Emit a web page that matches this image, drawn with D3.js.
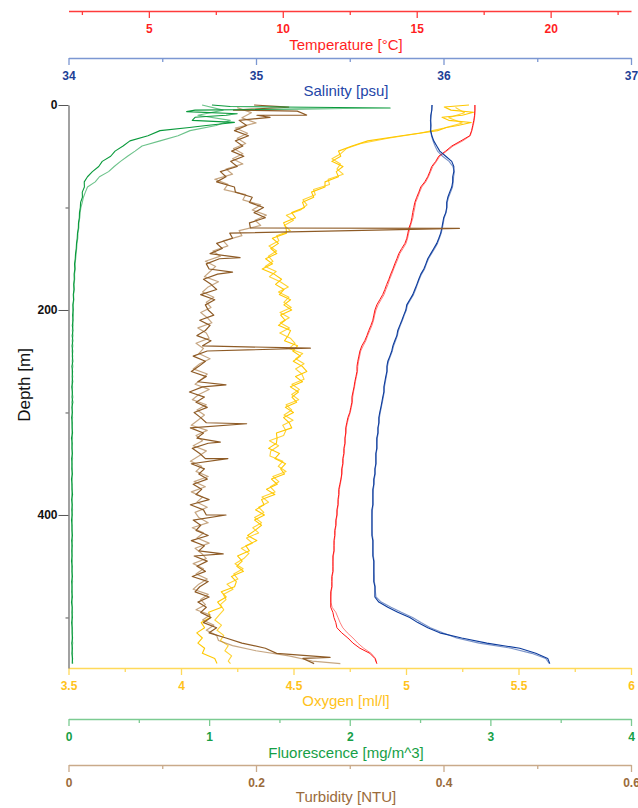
<!DOCTYPE html>
<html>
<head>
<meta charset="utf-8">
<script src="https://cdn.jsdelivr.net/npm/d3@7"></script>
<style>
  html, body { margin: 0; padding: 0; background: #fff; }
  svg { display: block; font-family: Arial, "Liberation Sans", sans-serif; }
</style>
</head>
<body>
<div id="chart"></div>
<script>
// CTD cast profile: five sensors against depth, down and up cast

const depth = [
  0, 5, 10, 15, 20, 25, 30, 35, 40, 45,
  50, 55, 60, 65, 70, 75, 80, 85, 90, 95,
  100, 105, 110, 115, 120, 125, 130, 135, 140, 145,
  150, 155, 160, 165, 170, 175, 180, 185, 190, 195,
  200, 205, 210, 215, 220, 225, 230, 235, 240, 245,
  250, 255, 260, 265, 270, 275, 280, 285, 290, 295,
  300, 305, 310, 315, 320, 325, 330, 335, 340, 345,
  350, 355, 360, 365, 370, 375, 380, 385, 390, 395,
  400, 405, 410, 415, 420, 425, 430, 435, 440, 445,
  450, 455, 460, 465, 470, 475, 480, 485, 490, 495,
  500, 505, 510, 515, 520, 525, 530, 535, 540, 545
];
// up-cast samples of the noisy sensors fall between the down-cast ones
const depthUp = [
  2.5, 7.5, 12.5, 17.5, 22.5, 27.5, 32.5, 37.5, 42.5, 47.5,
  52.5, 57.5, 62.5, 67.5, 72.5, 77.5, 82.5, 87.5, 92.5, 97.5,
  102.5, 107.5, 112.5, 117.5, 122.5, 127.5, 132.5, 137.5, 142.5, 147.5,
  152.5, 157.5, 162.5, 167.5, 172.5, 177.5, 182.5, 187.5, 192.5, 197.5,
  202.5, 207.5, 212.5, 217.5, 222.5, 227.5, 232.5, 237.5, 242.5, 247.5,
  252.5, 257.5, 262.5, 267.5, 272.5, 277.5, 282.5, 287.5, 292.5, 297.5,
  302.5, 307.5, 312.5, 317.5, 322.5, 327.5, 332.5, 337.5, 342.5, 347.5,
  352.5, 357.5, 362.5, 367.5, 372.5, 377.5, 382.5, 387.5, 392.5, 397.5,
  402.5, 407.5, 412.5, 417.5, 422.5, 427.5, 432.5, 437.5, 442.5, 447.5,
  452.5, 457.5, 462.5, 467.5, 472.5, 477.5, 482.5, 487.5, 492.5, 497.5,
  502.5, 507.5, 512.5, 517.5, 522.5, 527.5, 532.5, 537.5, 542.5, 545
];

// Temperature [°C]
const tempDown = [
  17.17, 17.17, 17.16, 17.13, 17.09, 17.05, 16.98, 16.65, 16.31, 16.08,
  15.82, 15.71, 15.56, 15.49, 15.41, 15.30, 15.15, 15.08, 15.00, 14.93,
  14.89, 14.85, 14.82, 14.78, 14.71, 14.67, 14.63, 14.56, 14.44, 14.33,
  14.26, 14.18, 14.11, 14.03, 13.96, 13.88, 13.81, 13.73, 13.62, 13.51,
  13.44, 13.40, 13.36, 13.29, 13.21, 13.14, 13.06, 12.95, 12.88, 12.84,
  12.80, 12.77, 12.77, 12.73, 12.69, 12.66, 12.62, 12.58, 12.58, 12.54,
  12.50, 12.43, 12.39, 12.35, 12.35, 12.32, 12.32, 12.28, 12.28, 12.24,
  12.24, 12.20, 12.20, 12.17, 12.13, 12.09, 12.09, 12.06, 12.06, 12.02,
  12.02, 11.98, 11.98, 11.94, 11.94, 11.91, 11.91, 11.91, 11.87, 11.87,
  11.87, 11.87, 11.83, 11.83, 11.83, 11.79, 11.79, 11.79, 11.79, 11.87,
  11.91, 11.98, 12.02, 12.20, 12.43, 12.62, 12.88, 13.25, 13.44, 13.51
];
const tempUp = [
  17.18, 17.18, 17.17, 17.15, 17.11, 17.06, 17.00, 16.72, 16.36, 16.12,
  15.86, 15.74, 15.60, 15.52, 15.44, 15.34, 15.19, 15.11, 15.04, 14.96,
  14.93, 14.89, 14.86, 14.80, 14.75, 14.70, 14.66, 14.60, 14.49, 14.37,
  14.30, 14.22, 14.14, 14.07, 13.99, 13.93, 13.85, 13.78, 13.67, 13.56,
  13.48, 13.43, 13.39, 13.33, 13.25, 13.17, 13.10, 13.00, 12.91, 12.87,
  12.83, 12.80, 12.79, 12.75, 12.71, 12.68, 12.64, 12.61, 12.60, 12.56,
  12.52, 12.46, 12.41, 12.37, 12.36, 12.33, 12.33, 12.30, 12.29, 12.26,
  12.25, 12.22, 12.21, 12.18, 12.15, 12.11, 12.10, 12.08, 12.07, 12.04,
  12.03, 12.00, 11.99, 11.96, 11.95, 11.93, 11.92, 11.92, 11.89, 11.88,
  11.88, 11.88, 11.85, 11.84, 11.84, 11.81, 11.80, 11.80, 11.84, 11.98,
  12.06, 12.14, 12.24, 12.41, 12.62, 12.80, 13.02, 13.30, 13.46, 13.51
];

// Salinity [psu]
const salDown = [
  35.938, 35.938, 35.932, 35.932, 35.932, 35.932, 35.938, 35.948, 35.964, 35.980,
  36.012, 36.044, 36.055, 36.055, 36.049, 36.049, 36.044, 36.033, 36.023, 36.017,
  36.017, 36.012, 36.001, 35.996, 35.991, 35.985, 35.975, 35.964, 35.948, 35.932,
  35.916, 35.906, 35.895, 35.879, 35.868, 35.858, 35.847, 35.836, 35.820, 35.804,
  35.799, 35.788, 35.778, 35.767, 35.756, 35.751, 35.740, 35.730, 35.724, 35.714,
  35.703, 35.698, 35.698, 35.692, 35.687, 35.682, 35.682, 35.676, 35.671, 35.666,
  35.660, 35.655, 35.655, 35.650, 35.650, 35.644, 35.644, 35.644, 35.639, 35.639,
  35.639, 35.634, 35.634, 35.628, 35.628, 35.623, 35.623, 35.623, 35.623, 35.618,
  35.618, 35.618, 35.618, 35.618, 35.618, 35.623, 35.623, 35.623, 35.623, 35.628,
  35.628, 35.628, 35.628, 35.628, 35.634, 35.634, 35.634, 35.655, 35.703, 35.756,
  35.820, 35.863, 35.916, 35.980, 36.097, 36.231, 36.407, 36.492, 36.556, 36.567
];
const salUp = [
  35.941, 35.936, 35.935, 35.930, 35.934, 35.930, 35.936, 35.944, 35.955, 35.968,
  35.995, 36.030, 36.050, 36.058, 36.054, 36.052, 36.048, 36.038, 36.027, 36.020,
  36.019, 36.014, 36.004, 35.999, 35.994, 35.988, 35.978, 35.968, 35.953, 35.936,
  35.920, 35.909, 35.899, 35.883, 35.871, 35.861, 35.851, 35.840, 35.824, 35.808,
  35.802, 35.791, 35.781, 35.770, 35.760, 35.754, 35.744, 35.734, 35.727, 35.717,
  35.707, 35.701, 35.700, 35.695, 35.690, 35.685, 35.684, 35.679, 35.674, 35.668,
  35.663, 35.658, 35.657, 35.652, 35.652, 35.647, 35.646, 35.646, 35.641, 35.641,
  35.641, 35.636, 35.636, 35.631, 35.630, 35.626, 35.625, 35.625, 35.625, 35.621,
  35.620, 35.620, 35.620, 35.620, 35.621, 35.625, 35.625, 35.625, 35.626, 35.630,
  35.630, 35.630, 35.631, 35.631, 35.636, 35.637, 35.640, 35.668, 35.720, 35.775,
  35.835, 35.880, 35.930, 35.996, 36.070, 36.190, 36.360, 36.470, 36.545, 36.565
];

// Oxygen [ml/l]
const oxyDown = [
  5.28, 5.20, 5.25, 5.19, 5.23, 5.14, 4.98, 4.83, 4.76, 4.70,
  4.71, 4.67, 4.72, 4.69, 4.70, 4.64, 4.64, 4.58, 4.59, 4.54,
  4.549, 4.492, 4.509, 4.456, 4.467, 4.469, 4.406, 4.433, 4.399, 4.426,
  4.376, 4.407, 4.361, 4.414, 4.447, 4.420, 4.458, 4.437, 4.487, 4.457,
  4.492, 4.443, 4.463, 4.433, 4.487, 4.476, 4.460, 4.518, 4.497, 4.531,
  4.499, 4.539, 4.559, 4.509, 4.540, 4.486, 4.522, 4.493, 4.514, 4.464,
  4.500, 4.456, 4.481, 4.492, 4.424, 4.427, 4.424, 4.389, 4.438, 4.417,
  4.465, 4.443, 4.460, 4.402, 4.428, 4.380, 4.417, 4.358, 4.369, 4.331,
  4.371, 4.327, 4.358, 4.329, 4.296, 4.337, 4.288, 4.304, 4.251, 4.272,
  4.248, 4.278, 4.224, 4.246, 4.238, 4.179, 4.201, 4.163, 4.181, 4.123,
  4.13, 4.09, 4.105, 4.07, 4.095, 4.075, 4.105, 4.095, 4.15, 4.16
];
const oxyUp = [
  5.22, 5.26, 5.19, 5.25, 5.17, 5.06, 4.92, 4.80, 4.735, 4.71,
  4.671, 4.709, 4.693, 4.721, 4.654, 4.660, 4.589, 4.597, 4.542, 4.560,
  4.531, 4.468, 4.500, 4.459, 4.486, 4.425, 4.435, 4.391, 4.425, 4.388,
  4.409, 4.374, 4.423, 4.393, 4.441, 4.477, 4.433, 4.480, 4.457, 4.490,
  4.440, 4.481, 4.441, 4.482, 4.439, 4.486, 4.507, 4.480, 4.541, 4.510,
  4.547, 4.509, 4.537, 4.547, 4.493, 4.526, 4.492, 4.523, 4.467, 4.492,
  4.458, 4.498, 4.452, 4.466, 4.456, 4.393, 4.434, 4.399, 4.395, 4.453,
  4.432, 4.467, 4.408, 4.435, 4.397, 4.418, 4.360, 4.389, 4.345, 4.368,
  4.327, 4.358, 4.319, 4.345, 4.291, 4.317, 4.268, 4.302, 4.279, 4.240,
  4.276, 4.234, 4.253, 4.204, 4.231, 4.188, 4.200, 4.175, 4.190, 4.170,
  4.15, 4.18, 4.16, 4.19, 4.175, 4.21, 4.195, 4.225, 4.21, 4.22
];
const oxySurfDepth = [2, 7, 12, 17, 22];
const oxySurfValue = [5.17, 5.30, 5.16, 5.29, 5.18];

// Fluorescence [mg/m^3]
const fluorDown = [
  1.02, 0.90, 1.12, 0.88, 0.98, 0.651, 0.565, 0.437, 0.388, 0.331,
  0.300, 0.240, 0.215, 0.170, 0.135, 0.112, 0.113, 0.098, 0.099, 0.086,
  0.084, 0.078, 0.077, 0.071, 0.070, 0.064, 0.062, 0.057, 0.055, 0.050,
  0.048, 0.043, 0.045, 0.040, 0.041, 0.037, 0.039, 0.034, 0.036, 0.031,
  0.034, 0.029, 0.033, 0.027, 0.032, 0.026, 0.031, 0.025, 0.030, 0.027,
  0.031, 0.024, 0.029, 0.026, 0.030, 0.023, 0.028, 0.025, 0.031, 0.024,
  0.028, 0.022, 0.027, 0.025, 0.029, 0.021, 0.027, 0.024, 0.028, 0.022,
  0.026, 0.023, 0.028, 0.021, 0.026, 0.024, 0.029, 0.022, 0.027, 0.023,
  0.027, 0.021, 0.026, 0.024, 0.028, 0.022, 0.027, 0.023, 0.026, 0.021,
  0.027, 0.024, 0.028, 0.022, 0.026, 0.023, 0.028, 0.021, 0.027, 0.024,
  0.028, 0.022, 0.027, 0.025, 0.029, 0.023, 0.028, 0.024, 0.029, 0.026
];
const fluorUp = [
  0.95, 1.10, 0.92, 1.15, 1.05, 0.864, 0.779, 0.651, 0.523, 0.473,
  0.420, 0.370, 0.325, 0.285, 0.220, 0.190, 0.135, 0.120, 0.106, 0.098,
  0.088, 0.083, 0.080, 0.074, 0.073, 0.067, 0.066, 0.060, 0.058, 0.054,
  0.051, 0.047, 0.048, 0.043, 0.044, 0.039, 0.041, 0.036, 0.038, 0.033,
  0.030, 0.035, 0.028, 0.033, 0.027, 0.032, 0.026, 0.031, 0.025, 0.030,
  0.026, 0.031, 0.025, 0.030, 0.024, 0.029, 0.026, 0.031, 0.023, 0.028,
  0.025, 0.029, 0.023, 0.028, 0.024, 0.029, 0.022, 0.027, 0.025, 0.029,
  0.022, 0.028, 0.024, 0.027, 0.022, 0.028, 0.023, 0.027, 0.024, 0.029,
  0.023, 0.028, 0.022, 0.027, 0.024, 0.029, 0.022, 0.027, 0.023, 0.028,
  0.022, 0.027, 0.024, 0.029, 0.023, 0.028, 0.022, 0.027, 0.025, 0.029,
  0.023, 0.028, 0.024, 0.029, 0.025, 0.030, 0.024, 0.029, 0.026, 0.030
];
const fluorSpikeDepth = [1.5, 3, 6.5, 8.5, 12, 17, 22];
const fluorSpikeValue = [1.15, 2.287, 0.84, 1.20, 0.90, 1.18, 0.86];

// Turbidity [NTU]
const turbDown = [
  0.198, 0.176, 0.201, 0.182, 0.190, 0.177, 0.192, 0.178, 0.186, 0.174,
  0.187, 0.173, 0.180, 0.162, 0.168, 0.158, 0.177, 0.178, 0.196, 0.193,
  0.208, 0.198, 0.210, 0.193, 0.194, 0.172, 0.175, 0.158, 0.164, 0.151,
  0.161, 0.147, 0.150, 0.159, 0.144, 0.152, 0.158, 0.141, 0.156, 0.146,
  0.149, 0.155, 0.140, 0.151, 0.146, 0.137, 0.152, 0.143, 0.148, 0.133,
  0.146, 0.139, 0.131, 0.147, 0.138, 0.143, 0.129, 0.145, 0.136, 0.148,
  0.134, 0.141, 0.147, 0.130, 0.144, 0.137, 0.149, 0.132, 0.140, 0.146,
  0.131, 0.145, 0.139, 0.148, 0.133, 0.142, 0.136, 0.150, 0.130, 0.144,
  0.147, 0.133, 0.141, 0.136, 0.149, 0.131, 0.145, 0.139, 0.134, 0.148,
  0.137, 0.146, 0.132, 0.149, 0.140, 0.135, 0.150, 0.138, 0.147, 0.141,
  0.152, 0.144, 0.158, 0.150, 0.168, 0.185, 0.210, 0.222, 0.250, 0.262
];
const turbUp = [
  0.180, 0.195, 0.185, 0.200, 0.178, 0.191, 0.180, 0.189, 0.176, 0.186,
  0.175, 0.186, 0.168, 0.175, 0.156, 0.170, 0.166, 0.189, 0.186, 0.205,
  0.196, 0.211, 0.199, 0.205, 0.182, 0.185, 0.165, 0.170, 0.154, 0.162,
  0.146, 0.157, 0.151, 0.145, 0.160, 0.149, 0.143, 0.155, 0.147, 0.152,
  0.141, 0.148, 0.153, 0.138, 0.147, 0.150, 0.136, 0.144, 0.139, 0.151,
  0.140, 0.133, 0.148, 0.142, 0.135, 0.150, 0.139, 0.132, 0.147, 0.137,
  0.145, 0.138, 0.131, 0.148, 0.136, 0.143, 0.133, 0.147, 0.139, 0.130,
  0.142, 0.136, 0.149, 0.134, 0.146, 0.131, 0.143, 0.137, 0.148, 0.135,
  0.139, 0.149, 0.132, 0.144, 0.137, 0.150, 0.135, 0.142, 0.147, 0.133,
  0.144, 0.136, 0.148, 0.139, 0.133, 0.149, 0.141, 0.146, 0.136, 0.151,
  0.143, 0.155, 0.147, 0.158, 0.160, 0.175, 0.200, 0.235, 0.260, 0.290
];
const turbSpikeDepth = [2, 6, 9.8, 12, 120.3, 149, 163, 237.3, 273, 311, 329, 345, 400, 438, 539];
const turbSpikeValue = [0.235, 0.244, 0.254, 0.215, 0.417, 0.183, 0.175, 0.258, 0.168, 0.190, 0.162, 0.170, 0.168, 0.165, 0.279];

// axis ticks
const tempMajor = [5, 10, 15, 20], tempMinor = [2.5, 7.5, 12.5, 17.5, 22.5];
const salMajor = [34, 35, 36, 37], salMinor = [34.5, 35.5, 36.5];
const oxyMajor = [3.5, 4, 4.5, 5, 5.5, 6], oxyMinor = [3.75, 4.25, 4.75, 5.25, 5.75];
const fluorMajor = [0, 1, 2, 3, 4], fluorMinor = [0.5, 1.5, 2.5, 3.5];
const turbMajor = [0, 0.2, 0.4, 0.6], turbMinor = [0.1, 0.3, 0.5];
const depthMajor = [0, 200, 400], depthMinor = [100, 300, 500];

const width = 638, height = 808;
const left = 68.5, right = 631;
const titleX = 346;

const svg = d3.select("#chart").append("svg")
    .attr("width", width)
    .attr("height", height);

const y = d3.scaleLinear().domain([0, 549.3]).range([105, 668]);
const xTemp = d3.scaleLinear().domain([2, 23]).range([left, right]);
const xSal = d3.scaleLinear().domain([34, 37]).range([left, right]);
const xOxy = d3.scaleLinear().domain([3.5, 6]).range([left, right]);
const xFluor = d3.scaleLinear().domain([0, 4]).range([left, right]);
const xTurb = d3.scaleLinear().domain([0, 0.6]).range([left, right]);

// build a cast as [depth, value] pairs, optional extra samples merged in by depth
function cast(depths, values, extraDepth, extraValue) {
    const pts = depths.map((d, i) => [d, values[i]]);
    if (extraDepth) extraDepth.forEach((d, i) => pts.push([d, extraValue[i]]));
    return pts.sort((a, b) => a[0] - b[0]);
}

function drawCast(pts, x, color, opacity, w) {
    const line = d3.line().x(p => x(p[1])).y(p => y(p[0]));
    svg.append("path")
        .datum(pts)
        .attr("d", line)
        .attr("fill", "none")
        .attr("stroke", color)
        .attr("stroke-opacity", opacity)
        .attr("stroke-width", w)
        .attr("stroke-linejoin", "round");
}

// horizontal value axis with major + minor ticks and a title
function hAxis(scale, yPos, major, minor, c, title, titleY) {
    const g = svg.append("g").attr("transform", `translate(0,${yPos})`);
    g.call(d3.axisBottom(scale).tickValues(major).tickSize(7).tickSizeOuter(0)
        .tickPadding(6).tickFormat(d => String(d)));
    g.attr("font-family", null).attr("font-size", null);
    g.select(".domain").attr("stroke", c.line).attr("stroke-width", 1.3);
    g.selectAll(".tick line").attr("stroke", c.line).attr("stroke-width", 1.3);
    g.selectAll(".tick text")
        .attr("fill", c.text)
        .style("font-size", "12px")
        .style("font-weight", "bold");

    const gm = svg.append("g").attr("transform", `translate(0,${yPos})`);
    gm.call(d3.axisBottom(scale).tickValues(minor).tickSize(4).tickFormat(""));
    gm.select(".domain").remove();
    gm.selectAll(".tick line").attr("stroke", c.line).attr("stroke-width", 1.3);

    svg.append("text")
        .attr("x", titleX)
        .attr("y", titleY)
        .attr("text-anchor", "middle")
        .attr("dominant-baseline", "central")
        .attr("fill", c.title)
        .style("font-size", "15px")
        .text(title);
}

hAxis(xTemp, 11, tempMajor, tempMinor,
    { line: "#ff3b3b", text: "#ff1f1f", title: "#ff1f1f" }, "Temperature [°C]", 44);
hAxis(xSal, 58, salMajor, salMinor,
    { line: "#7c97d2", text: "#1d3f96", title: "#2446a8" }, "Salinity [psu]", 90);
hAxis(xOxy, 668, oxyMajor, oxyMinor,
    { line: "#ffd95a", text: "#ffc21a", title: "#ffc21a" }, "Oxygen [ml/l]", 700);
hAxis(xFluor, 719, fluorMajor, fluorMinor,
    { line: "#7ccb92", text: "#16a047", title: "#16a047" }, "Fluorescence [mg/m^3]", 752);
hAxis(xTurb, 765, turbMajor, turbMinor,
    { line: "#c9aa8a", text: "#9a6b3b", title: "#9a6b3b" }, "Turbidity [NTU]", 796);

// depth axis
const gy = svg.append("g").attr("transform", `translate(${left},0)`);
gy.call(d3.axisLeft(y).tickValues(depthMajor).tickSize(10).tickSizeOuter(0).tickPadding(1));
gy.attr("font-family", null).attr("font-size", null);
gy.select(".domain").attr("stroke", "#8a8a8a").attr("stroke-width", 1.6);
gy.selectAll(".tick line").attr("stroke", "#555");
gy.selectAll(".tick text").attr("fill", "#111").style("font-size", "12px").style("font-weight", "bold");
const gym = svg.append("g").attr("transform", `translate(${left},0)`);
gym.call(d3.axisLeft(y).tickValues(depthMinor).tickSize(3).tickFormat(""));
gym.select(".domain").remove();
gym.selectAll(".tick line").attr("stroke", "#555");

svg.append("text")
    .attr("transform", "translate(24,385) rotate(-90)")
    .attr("text-anchor", "middle")
    .attr("dominant-baseline", "central")
    .attr("fill", "#111")
    .style("font-size", "17px")
    .text("Depth [m]");

// profiles
drawCast(cast(depthUp, oxyUp), xOxy, "#ffc800", 0.8, 1.1);
drawCast(cast(depth, oxyDown, oxySurfDepth, oxySurfValue), xOxy, "#ffc800", 1, 1.1);
drawCast(cast(depth, tempUp), xTemp, "#ff1414", 0.55, 1);
drawCast(cast(depth, tempDown), xTemp, "#ff1414", 1, 1);
drawCast(cast(depth, salUp), xSal, "#0c3b9c", 0.55, 1.1);
drawCast(cast(depth, salDown), xSal, "#0c3b9c", 1, 1.1);
drawCast(cast(depthUp, turbUp), xTurb, "#a8773f", 0.65, 1.2);
drawCast(cast(depth, turbDown, turbSpikeDepth, turbSpikeValue), xTurb, "#8e5b26", 1, 1.2);
drawCast(cast(depth, fluorUp), xFluor, "#0a9a3c", 0.6, 1.1);
drawCast(cast(depth, fluorDown, fluorSpikeDepth, fluorSpikeValue), xFluor, "#0a9a3c", 1, 1.1);
</script>
</body>
</html>
